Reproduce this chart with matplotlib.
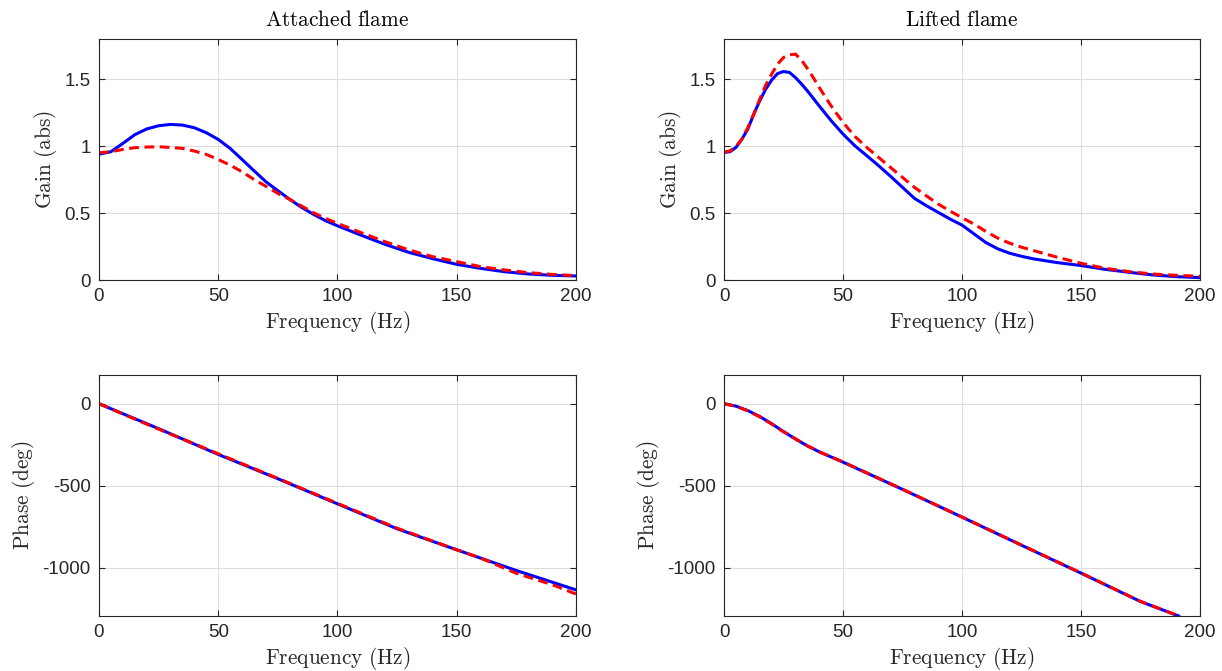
import matplotlib
matplotlib.use("Agg")
import matplotlib.pyplot as plt

plt.rcParams['font.family'] = ['Liberation Sans', 'DejaVu Sans']
plt.rcParams['mathtext.fontset'] = 'cm'
plt.rcParams['axes.unicode_minus'] = False

# ---- data ----
# attached flame, gain
att_f = [0, 5, 10, 15, 20, 25, 30, 35, 40, 45, 50, 55, 60, 65, 70, 75, 80, 85, 90, 95, 100,
         110, 120, 130, 140, 150, 160, 170, 180, 190, 200]
att_gain_blue = [0.94, 0.958, 1.02, 1.085, 1.128, 1.152, 1.162, 1.157, 1.137, 1.10, 1.05, 0.983,
                 0.90, 0.816, 0.734, 0.667, 0.602, 0.542, 0.49, 0.443, 0.405, 0.334, 0.266,
                 0.206, 0.159, 0.117, 0.087, 0.062, 0.045, 0.035, 0.03]
att_gain_red = [0.95, 0.958, 0.975, 0.988, 0.993, 0.995, 0.99, 0.983, 0.963, 0.938, 0.90, 0.858,
                0.808, 0.751, 0.70, 0.647, 0.602, 0.552, 0.502, 0.46, 0.423, 0.353, 0.286,
                0.224, 0.174, 0.137, 0.10, 0.075, 0.055, 0.042, 0.032]

# lifted flame, gain
lif_f = [0, 2.5, 5, 7.5, 10, 12.5, 15, 17.5, 20, 22.5, 25, 27.5, 30, 32.5, 35, 37.5, 40, 45,
         50, 55, 60, 65, 70, 75, 80, 85, 90, 95, 100, 105, 110, 115, 120, 125, 130, 140, 150,
         160, 170, 180, 190, 200]
lif_gain_blue = [0.953, 0.958, 0.99, 1.052, 1.127, 1.239, 1.338, 1.425, 1.493, 1.542, 1.557,
                 1.55, 1.512, 1.465, 1.413, 1.357, 1.30, 1.19, 1.09, 1.002, 0.928, 0.853,
                 0.774, 0.692, 0.61, 0.555, 0.505, 0.455, 0.41, 0.345, 0.28, 0.233, 0.20,
                 0.177, 0.158, 0.13, 0.108, 0.08, 0.058, 0.038, 0.025, 0.018]
lif_gain_red = [0.953, 0.965, 0.997, 1.052, 1.139, 1.239, 1.35, 1.455, 1.537, 1.612, 1.662,
                1.682, 1.687, 1.644, 1.58, 1.512, 1.438, 1.30, 1.177, 1.072, 0.99, 0.915,
                0.84, 0.766, 0.692, 0.629, 0.567, 0.515, 0.465, 0.418, 0.363, 0.313, 0.275,
                0.245, 0.22, 0.17, 0.125, 0.088, 0.063, 0.045, 0.035, 0.028]

# attached flame, phase (deg)
att_pf_blue = [0, 10, 25, 50, 75, 100, 125, 150, 175, 200]
att_phase_blue = [0, -61, -152, -309, -457, -610, -762, -890, -1016, -1134]
att_pf_red = [0, 10, 25, 50, 75, 100, 125, 150, 160, 175, 190, 200]
att_phase_red = [0, -63, -155, -305, -455, -607, -758, -890, -940, -1033, -1102, -1159]

# lifted flame, phase (deg)
lif_pf = [0, 5, 10, 15, 20, 25, 30, 35, 40, 50, 75, 100, 125, 150, 175, 191]
lif_phase_blue = [0, -15, -42, -78, -122, -170, -215, -257, -293, -356, -522, -691, -862,
                  -1032, -1205, -1293]
lif_phase_red = [0, -16, -44, -80, -124, -171, -214, -256, -293, -355, -521, -690, -861,
                 -1031, -1204, -1292]

freq_ticks = [0, 50, 100, 150, 200]
gain_ticks = [0, 0.5, 1, 1.5]
gain_tick_labels = ['0', '0.5', '1', '1.5']
phase_ticks = [-1000, -500, 0]
phase_tick_labels = ['-1000', '-500', '0']

dark = '#262626'
fig = plt.figure(figsize=(12.22, 6.71), dpi=100)

axes = [
    fig.add_axes([0.081, 0.5827, 0.3903, 0.3592]),
    fig.add_axes([0.5925, 0.5827, 0.3895, 0.3592]),
    fig.add_axes([0.081, 0.0820, 0.3903, 0.3592]),
    fig.add_axes([0.5925, 0.0820, 0.3895, 0.3592]),
]

def style(ax):
    ax.set_xlim(0, 200)
    ax.set_xticks(freq_ticks)
    ax.grid(True, color='#dedede', linewidth=0.8)
    ax.set_axisbelow(True)
    ax.tick_params(direction='in', length=4.5, width=0.8, top=True, right=True,
                   colors=dark, labelsize=13.5, labelcolor=dark, pad=6)
    for s in ax.spines.values():
        s.set_color(dark)
        s.set_linewidth(0.8)
    ax.set_xlabel(r'$\mathrm{Frequency\ (Hz)}$', fontsize=15.4, color=dark, labelpad=2.5)

lw = 2.2
dash = (0, (3.2, 1.8))

ax = axes[0]
ax.plot(att_f, att_gain_blue, color='#0000ff', lw=lw)
ax.plot(att_f, att_gain_red, color='#ff0000', lw=lw, ls=dash)
ax.set_title(r'$\mathrm{Attached\ flame}$', fontsize=15.4, color='black', pad=9)

ax = axes[1]
ax.plot(lif_f, lif_gain_blue, color='#0000ff', lw=lw)
ax.plot(lif_f, lif_gain_red, color='#ff0000', lw=lw, ls=dash)
ax.set_title(r'$\mathrm{Lifted\ flame}$', fontsize=15.4, color='black', pad=9)

for ax in axes[:2]:
    style(ax)
    ax.set_ylim(0, 1.8)
    ax.set_yticks(gain_ticks)
    ax.set_yticklabels(gain_tick_labels)
    ax.set_ylabel(r'$\mathrm{Gain\ (abs)}$', fontsize=15.4, color=dark, labelpad=4)

ax = axes[2]
ax.plot(att_pf_blue, att_phase_blue, color='#0000ff', lw=lw)
ax.plot(att_pf_red, att_phase_red, color='#ff0000', lw=lw, ls=dash)

ax = axes[3]
ax.plot(lif_pf, lif_phase_blue, color='#0000ff', lw=lw)
ax.plot(lif_pf, lif_phase_red, color='#ff0000', lw=lw, ls=dash)

for ax in axes[2:]:
    style(ax)
    ax.set_ylim(-1293, 175)
    ax.set_yticks(phase_ticks)
    ax.set_yticklabels(phase_tick_labels)
    ax.set_ylabel(r'$\mathrm{Phase\ (deg)}$', fontsize=15.4, color=dark, labelpad=4)

fig.savefig('out.png', dpi=100)
